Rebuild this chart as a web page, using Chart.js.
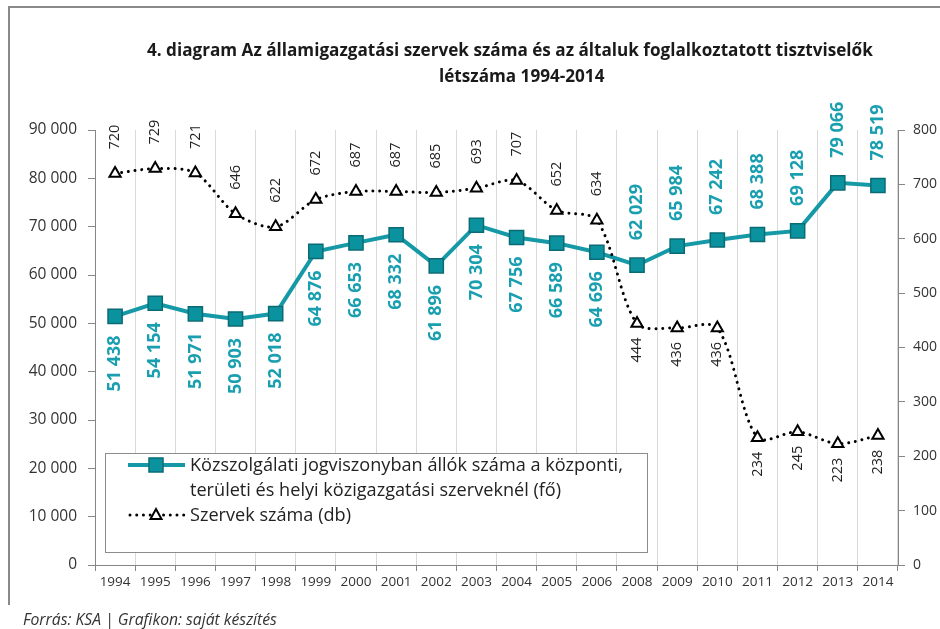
<!DOCTYPE html>
<html>
<head>
<meta charset="utf-8">
<script src="https://cdn.jsdelivr.net/npm/chart.js@4.4.1/dist/chart.umd.min.js"></script>
<style>
html,body{margin:0;padding:0;background:#fff;}
#wrap{width:940px;height:629px;position:relative;}
</style>
</head>
<body>
<div id="wrap"><canvas id="c" width="940" height="629"></canvas></div>
<script>
const years = ['1994','1995','1996','1997','1998','1999','2000','2001','2002','2003','2004','2005','2006','2008','2009','2010','2011','2012','2013','2014'];
const employees = [51438,54154,51971,50903,52018,64876,66653,68332,61896,70304,67756,66589,64696,62029,65984,67242,68388,69128,79066,78519];
const agencies = [720,729,721,646,622,672,687,687,685,693,707,652,634,444,436,436,234,245,223,238];
const leftTicks = [0,10000,20000,30000,40000,50000,60000,70000,80000,90000];
const rightTicks = [0,100,200,300,400,500,600,700,800];
const titleLines = ['4. diagram Az államigazgatási szervek száma és az általuk foglalkoztatott tisztviselők','létszáma 1994-2014'];
const legendLines1 = ['Közszolgálati jogviszonyban állók száma a központi,','területi és helyi közigazgatási szerveknél (fő)'];
const legendLabel2 = 'Szervek száma (db)';
const footerText = 'Forrás: KSA | Grafikon: saját készítés';

const TEAL_LINE = '#1699a6';
const TEAL_FILL = '#0a939e';
const TEAL_BORDER = '#0b6b75';
const TEAL_LABEL = '#1a9fb0';
const FONT = '"Open Sans", sans-serif';

function fmt(n){ return String(n).replace(/\B(?=(\d{3})+(?!\d))/g, ' '); }

function fitFont(ctx, text, weight, style, base, target){
  ctx.font = style + ' ' + weight + ' ' + base + 'px ' + FONT;
  const w = ctx.measureText(text).width;
  return base * target / w;
}

const decor = {
  id: 'decor',
  beforeDraw(chart){
    const ctx = chart.ctx;
    ctx.save();
    ctx.fillStyle = '#fff';
    ctx.fillRect(0,0,chart.width,chart.height);
    ctx.strokeStyle = '#8a8a8a';
    ctx.lineWidth = 2;
    ctx.beginPath();
    ctx.moveTo(9, 605);
    ctx.lineTo(9, 7);
    ctx.lineTo(940, 7);
    ctx.stroke();
    ctx.restore();
  },
  afterDraw(chart){
    const ctx = chart.ctx;
    ctx.save();
    // title
    const ts = fitFont(ctx, titleLines[0], 'bold', 'normal', 18, 726);
    ctx.font = 'normal bold ' + ts + 'px ' + FONT;
    ctx.fillStyle = '#1a1a1a';
    ctx.textBaseline = 'middle';
    ctx.textAlign = 'left';
    ctx.fillText(titleLines[0], 147, 51);
    ctx.fillText(titleLines[1], 439, 77);
    // footer
    const fs = fitFont(ctx, footerText, 'normal', 'italic', 14, 254);
    ctx.font = 'italic normal ' + fs + 'px ' + FONT;
    ctx.fillStyle = '#333';
    ctx.fillText(footerText, 23, 621);
    // legend box
    ctx.fillStyle = '#fff';
    ctx.fillRect(105, 453, 542, 99);
    ctx.strokeStyle = '#8c8c8c';
    ctx.lineWidth = 1;
    ctx.strokeRect(105.5, 453.5, 542, 99);
    // entry 1
    ctx.strokeStyle = TEAL_LINE;
    ctx.lineWidth = 4;
    ctx.beginPath(); ctx.moveTo(128, 465); ctx.lineTo(185, 465); ctx.stroke();
    ctx.fillStyle = TEAL_FILL; ctx.strokeStyle = TEAL_BORDER; ctx.lineWidth = 1.5;
    ctx.fillRect(149, 458, 14, 14); ctx.strokeRect(149, 458, 14, 14);
    const ls = fitFont(ctx, legendLines1[0], 'normal', 'normal', 17, 433);
    ctx.font = 'normal normal ' + ls + 'px ' + FONT;
    ctx.fillStyle = '#222';
    ctx.textBaseline = 'middle';
    ctx.fillText(legendLines1[0], 190, 466);
    ctx.fillText(legendLines1[1], 190, 491);
    ctx.fillText(legendLabel2, 190, 516);
    // entry 2
    ctx.strokeStyle = '#000';
    ctx.lineWidth = 3;
    ctx.lineCap = 'round';
    ctx.setLineDash([0.01, 6.7]);
    ctx.beginPath(); ctx.moveTo(130, 515); ctx.lineTo(185, 515); ctx.stroke();
    ctx.setLineDash([]);
    ctx.lineCap = 'butt';
    ctx.fillStyle = '#fff'; ctx.lineWidth = 2;
    ctx.beginPath();
    ctx.moveTo(156, 509); ctx.lineTo(161.5, 519); ctx.lineTo(150.5, 519); ctx.closePath();
    ctx.fill(); ctx.stroke();
    ctx.restore();
  }
};

const dataLabels = {
  id: 'dataLabels',
  afterDatasetsDraw(chart){
    const ctx = chart.ctx;
    ctx.save();
    chart.data.datasets.forEach((ds, di) => {
      const meta = chart.getDatasetMeta(di);
      const isTeal = ds.yAxisID === 'y';
      meta.data.forEach((pt, i) => {
        const v = ds.data[i];
        const below = isTeal ? (i <= 12) : (i > 12);
        let off;
        if (isTeal) off = below ? 19 : 25; else off = below ? 14 : 24;
        ctx.save();
        ctx.translate(pt.x, below ? pt.y + off : pt.y - off);
        ctx.rotate(-Math.PI/2);
        ctx.textBaseline = 'middle';
        ctx.textAlign = below ? 'right' : 'left';
        if (isTeal) { ctx.font = 'bold 18px ' + FONT; ctx.fillStyle = TEAL_LABEL; }
        else { ctx.font = 'normal 14.5px ' + FONT; ctx.fillStyle = '#222'; }
        ctx.fillText(fmt(v), 0, 0);
        ctx.restore();
      });
    });
    ctx.restore();
  }
};

new Chart(document.getElementById('c'), {
  type: 'line',
  data: {
    labels: years,
    datasets: [
      {
        label: legendLines1.join(' '),
        data: employees,
        yAxisID: 'y',
        order: 1,
        borderColor: TEAL_LINE,
        borderWidth: 4,
        pointStyle: 'rect',
        pointRadius: 10,
        pointBackgroundColor: TEAL_FILL,
        pointBorderColor: TEAL_BORDER,
        pointBorderWidth: 1.5,
        tension: 0,
        clip: false
      },
      {
        label: legendLabel2,
        data: agencies,
        yAxisID: 'y2',
        order: 0,
        borderColor: '#000',
        borderWidth: 3,
        borderDash: [0.01, 6.7],
        borderCapStyle: 'round',
        pointStyle: 'triangle',
        pointRadius: 6.5,
        pointBackgroundColor: '#fff',
        pointBorderColor: '#000',
        pointBorderWidth: 2,
        tension: 0.3,
        clip: false
      }
    ]
  },
  options: {
    responsive: false,
    animation: false,
    events: [],
    layout: { padding: { top: 130, left: 0, right: 0, bottom: 0 } },
    plugins: { legend: { display: false }, title: { display: false }, tooltip: { enabled: false } },
    scales: {
      x: {
        type: 'category',
        offset: true,
        grid: { offset: true, color: '#d9d9d9', lineWidth: 1, tickColor: '#868686', tickLength: 6, drawOnChartArea: true },
        border: { color: '#868686', width: 1 },
        ticks: { font: { family: FONT, size: 13.5 }, color: '#333', padding: 3, maxRotation: 0, autoSkip: false },
        afterFit: s => { s.height = 64; }
      },
      y: {
        position: 'left',
        min: 0, max: 90000,
        afterBuildTicks: s => { s.ticks = leftTicks.map(v => ({ value: v })); },
        grid: { drawOnChartArea: false, tickColor: '#868686', tickLength: 7 },
        border: { color: '#868686', width: 1 },
        ticks: { font: { family: FONT, size: 15.5 }, color: '#333', padding: 11, callback: v => fmt(v) },
        afterFit: s => { s.width = 95; }
      },
      y2: {
        position: 'right',
        min: 0, max: 800,
        afterBuildTicks: s => { s.ticks = rightTicks.map(v => ({ value: v })); },
        grid: { drawOnChartArea: false, tickColor: '#868686', tickLength: 7 },
        border: { color: '#868686', width: 1 },
        ticks: { font: { family: FONT, size: 14 }, color: '#333', padding: 8, callback: v => String(v) },
        afterFit: s => { s.width = 42; }
      }
    }
  },
  plugins: [decor, dataLabels]
});
</script>
</body>
</html>
